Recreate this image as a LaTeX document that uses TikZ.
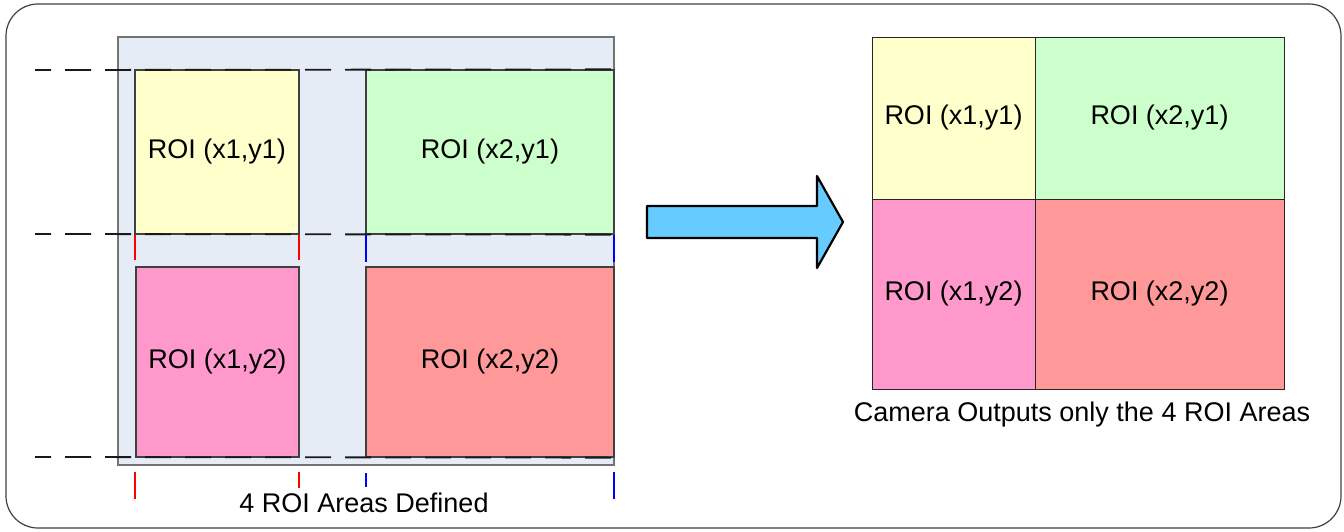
\documentclass[tikz,border=0pt]{standalone}
\usepackage{fontspec}
\setmainfont{Liberation Sans}
\definecolor{bgblue}{HTML}{E5ECF6}
\definecolor{roiyellow}{HTML}{FFFFCC}
\definecolor{roigreen}{HTML}{CCFFCC}
\definecolor{roipink}{HTML}{FF99CC}
\definecolor{roired}{HTML}{FF9999}
\definecolor{arrowblue}{HTML}{66CCFF}
\definecolor{edgegray}{HTML}{404040}
\tikzset{
  roibox/.style={draw=edgegray, line width=1.3pt, inner sep=0pt, font=\fontsize{27}{30}\selectfont},
  cellbox/.style={draw=black!85, line width=1pt, inner sep=0pt, font=\fontsize{27}{30}\selectfont},
  cutline/.style={line width=1.8pt, black!90, dash pattern=on 26pt off 14pt},
  redtick/.style={red, line width=2pt},
  bluetick/.style={blue, line width=2pt},
  caption/.style={font=\fontsize{27}{30}\selectfont, inner sep=0pt}
}
\begin{document}
\begin{tikzpicture}[x=1pt,y=-1pt]
\useasboundingbox (0,0) rectangle (1344,531);
% outer frame
\draw[black!75, line width=1.2pt, rounded corners=32pt] (6,4) rectangle (1341,528);
% sensor background
\node[draw=black!55, fill=bgblue, line width=1.3pt, minimum width=496pt, minimum height=428pt, inner sep=0pt] (sensor) at (366,251) {};
% ROI boxes left
\node[roibox, fill=roiyellow, minimum width=164pt, minimum height=164pt] (r11) at (217,152) {ROI (x1,y1)};
\node[roibox, fill=roigreen, minimum width=248pt, minimum height=164pt] (r21) at (490,152) {ROI (x2,y1)};
\node[roibox, fill=roipink, minimum width=163pt, minimum height=190pt] (r12) at (217.5,362) {ROI (x1,y2)};
\node[roibox, fill=roired, minimum width=248pt, minimum height=190pt] (r22) at (490,362) {ROI (x2,y2)};
% dashed cut lines
\coordinate (l1) at (35,70);
\coordinate (l2) at (35,234);
\coordinate (l3) at (35,457);
\draw[cutline, dash phase=10pt] (l1) -- (r21.north east);
\draw[cutline, dash phase=10pt] (l2) -- (r21.south east);
\draw[cutline, dash phase=10pt] (l3) -- (r22.south east);
% ticks
\coordinate (u1) at (135,235);
\coordinate (u2) at (299,235);
\coordinate (u3) at (366,235);
\coordinate (u4) at (614,235);
\draw[redtick] (u1) -- (135,260);
\draw[redtick] (u2) -- (299,260);
\draw[bluetick] (u3) -- (366,262);
\draw[bluetick] (u4) -- (614,262);
\coordinate (t1) at (135,472);
\coordinate (t2) at (299,472);
\coordinate (t3) at (366,473);
\coordinate (t4) at (614,472);
\draw[redtick] (t1) -- (135,499);
\draw[redtick] (t2) -- (299,488);
\draw[bluetick] (t3) -- (366,487);
\draw[bluetick] (t4) -- (614,499);
\node[caption] (cap1) at (364,503) {4 ROI Areas Defined};
% big arrow
\draw[fill=arrowblue, line width=2.2pt, line join=round]
  (647,206) -- (817,206) -- (817,176) -- (843,222) -- (817,268) -- (817,238) -- (647,238) -- cycle;
% output grid
\node[cellbox, fill=roiyellow, minimum width=163pt, minimum height=162pt] (o11) at (953.5,118) {ROI (x1,y1)};
\node[cellbox, fill=roigreen, minimum width=249pt, minimum height=162pt] (o21) at (1159.5,118) {ROI (x2,y1)};
\node[cellbox, fill=roipink, minimum width=163pt, minimum height=190pt] (o12) at (953.5,294) {ROI (x1,y2)};
\node[cellbox, fill=roired, minimum width=249pt, minimum height=190pt] (o22) at (1159.5,294) {ROI (x2,y2)};
\node[caption] (cap2) at (1082,415) {Camera Outputs only the 4 ROI Areas};
\end{tikzpicture}
\end{document}
